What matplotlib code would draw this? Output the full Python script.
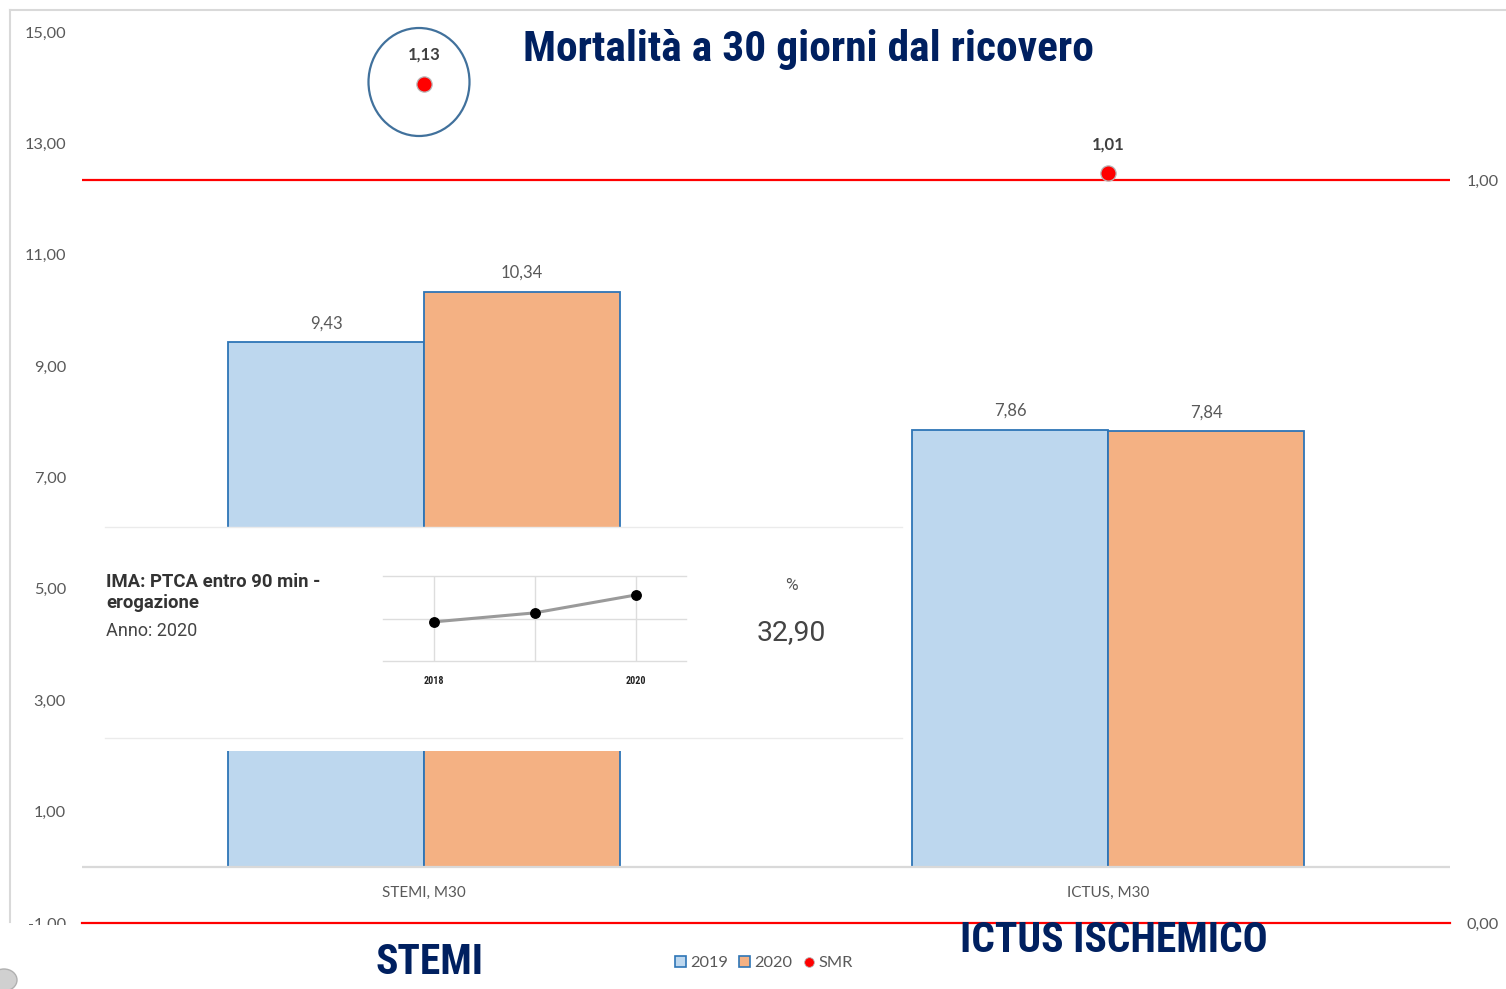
import matplotlib
matplotlib.use('Agg')
import matplotlib.pyplot as plt
from matplotlib import font_manager
from matplotlib.patches import Rectangle, Ellipse, Patch
from matplotlib.lines import Line2D
import numpy as np

# ---------------- data ----------------
categories = ['STEMI, M30', 'ICTUS, M30']
mort_2019 = [9.43, 7.86]
mort_2020 = [10.34, 7.84]
smr = [1.13, 1.01]
left_ticks = [-1, 1, 3, 5, 7, 9, 11, 13, 15]
right_ticks = [0.0, 1.0]
series_names = ['2019', '2020', 'SMR']
title = 'Mortalità a 30 giorni dal ricovero'
group_titles = ['STEMI', 'ICTUS ISCHEMICO']

inset_years = [2018, 2019, 2020]
inset_values = [19.5, 24.0, 32.9]
inset_label_years = [2018, 2020]
inset_title_lines = ['IMA: PTCA entro 90 min -', 'erogazione']
inset_year_text = 'Anno: 2020'
inset_unit = '%'
inset_value_text = '32,90'


def pick(cands):
    for c in cands:
        try:
            font_manager.findfont(font_manager.FontProperties(family=c),
                                  fallback_to_default=False)
            return c
        except Exception:
            pass
    return 'DejaVu Sans'


F_CHART = pick(['Lato', 'Open Sans', 'DejaVu Sans'])
F_NARROW = pick(['Liberation Sans Narrow', 'Roboto Condensed', 'Lato'])
F_INSET = pick(['Roboto', 'Liberation Sans', 'DejaVu Sans'])


def fmt(v):
    return f'{v:.2f}'.replace('.', ',')


W, H = 1506, 989
fig = plt.figure(figsize=(W / 100, H / 100), dpi=100)
fig.patch.set_facecolor('white')


def fx(px):
    return px / W


def fy(py):
    return 1 - py / H


PX = 0.72  # points per pixel at dpi 100

# ---------------- main axes ----------------
ax = fig.add_axes([fx(82), fy(923), fx(1450) - fx(82), fy(32) - fy(923)])
x = np.arange(len(categories))
w = 0.2865
b1 = ax.bar(x - w / 2, mort_2019, w, color='#BDD7EE', edgecolor='#2E75B6',
            linewidth=1.3, zorder=2, label=series_names[0])
b2 = ax.bar(x + w / 2, mort_2020, w, color='#F4B183', edgecolor='#2E75B6',
            linewidth=1.3, zorder=2, label=series_names[1])
ax.set_xlim(-0.5, len(categories) - 0.5)
ax.set_ylim(-1, 15)
ax.set_yticks(left_ticks)
ax.set_yticklabels([fmt(v) for v in left_ticks])
ax.set_xticks([])
for s in ax.spines.values():
    s.set_visible(False)
ax.tick_params(axis='y', length=0, pad=16 * PX, labelsize=11.8,
               labelcolor='#595959')
for lab in ax.get_yticklabels():
    lab.set_family(F_CHART)
ax.axhline(0, color='#D9D9D9', lw=1.6, zorder=3)

for xs, vals in ((x - w / 2, mort_2019), (x + w / 2, mort_2020)):
    for xi, v in zip(xs, vals):
        ax.annotate(fmt(v), (xi, v), xytext=(0, 18.5 * PX), textcoords='offset points',
                    ha='center', va='center', fontsize=12, color='#595959',
                    family=F_CHART)

for xi, c in zip(x, categories):
    ax.annotate(c, (xi, 0), xytext=(0, -26 * PX), textcoords='offset points',
                ha='center', va='center', fontsize=11, color='#595959',
                family=F_CHART)

# ---------------- secondary axis (SMR) ----------------
ax2 = ax.twinx()
ax2.set_ylim(0, 1.2)
ax2.set_yticks(right_ticks)
ax2.set_yticklabels([fmt(v) for v in right_ticks])
for s in ax2.spines.values():
    s.set_visible(False)
ax2.tick_params(axis='y', length=0, pad=17 * PX, labelsize=11.8,
                labelcolor='#595959')
for lab in ax2.get_yticklabels():
    lab.set_family(F_CHART)
ax2.axhline(1.0, color='#FF0000', lw=1.6, zorder=1)
ax2.axhline(0.0, color='#FF0000', lw=1.6, zorder=1, clip_on=False)
ax2.plot(x, smr, 'o', ls='none', color='#FF0000', ms=11, mec='#B8B8B8',
         mew=0.9, zorder=4)
for xi, v in zip(x, smr):
    ax2.annotate(fmt(v), (xi, v), xytext=(0, 29 * PX), textcoords='offset points',
                 ha='center', va='center', fontsize=12, fontweight='bold',
                 color='#404040', family=F_CHART)

# ellipse highlight around STEMI SMR point
fig.add_artist(Ellipse((fx(419), fy(82)), 101 / W, 108 / H, transform=fig.transFigure,
                       fill=False, ec='#41719C', lw=1.6, zorder=5))

# chart frame borders
fig.add_artist(Line2D([fx(10), fx(10)], [fy(10), fy(922)], color='#D9D9D9', lw=1.5,
                      transform=fig.transFigure, zorder=1))
fig.add_artist(Line2D([fx(10), 1.0], [fy(10), fy(10)], color='#D9D9D9', lw=1.5,
                      transform=fig.transFigure, zorder=1))

# ---------------- overlay (white) ----------------
fig.add_artist(Rectangle((fx(105), fy(751)), fx(902) - fx(105), fy(527) - fy(751),
                         transform=fig.transFigure, facecolor='white',
                         edgecolor='none', zorder=5))
for yy in (527, 738):
    fig.add_artist(Line2D([fx(105), fx(902)], [fy(yy), fy(yy)], color='#EBEBEB',
                          lw=1.0, transform=fig.transFigure, zorder=5.5))

# bottom white strip (slide area)
fig.add_artist(Rectangle((0, 0), fx(1455), fy(925), transform=fig.transFigure,
                         facecolor='white', edgecolor='none', zorder=5))
fig.add_artist(Ellipse((fx(4), fy(980)), 26 / W, 22 / H, transform=fig.transFigure,
                       facecolor='#D0D0D0', edgecolor='#B0B0B0', lw=1, zorder=5.5))

# ---------------- inset chart ----------------
iax = fig.add_axes([fx(383), fy(661), fx(686) - fx(383), fy(576) - fy(661)], zorder=6)
iax.set_xlim(2017.5, 2020.5)
iax.set_ylim(0, 42.4)
iax.patch.set_alpha(0)
for s in iax.spines.values():
    s.set_visible(False)
for yv in (0, 21.2, 42.4):
    iax.axhline(yv, color='#DDDDDD', lw=1.0, clip_on=False, zorder=1)
for xv in inset_years:
    iax.axvline(xv, color='#DDDDDD', lw=1.0, zorder=1)
iax.plot(inset_years, inset_values, color='#9A9A9A', lw=2.2, zorder=2)
iax.plot(inset_years, inset_values, 'o', ls='none', color='black', ms=6.8, zorder=3)
iax.set_yticks([])
iax.set_xticks(inset_label_years)
iax.set_xticklabels([str(v) for v in inset_label_years])
iax.tick_params(axis='x', length=0, pad=15 * PX, labelsize=7.2, labelcolor='#222222')
for lab in iax.get_xticklabels():
    lab.set_family(F_NARROW)
    lab.set_fontweight('bold')

# ---------------- texts ----------------
texts_to_fit = []
t = fig.text(fx(808), fy(49), title, ha='center', va='center', fontsize=28,
             fontweight='bold', color='#002060', family=F_NARROW, zorder=7)
texts_to_fit.append((t, 572))
t = fig.text(fx(429), fy(962), group_titles[0], ha='center', va='center', fontsize=26,
             fontweight='bold', color='#002060', family=F_NARROW, zorder=7)
texts_to_fit.append((t, 108))
t = fig.text(fx(1114), fy(941), group_titles[1], ha='center', va='center', fontsize=26,
             fontweight='bold', color='#002060', family=F_NARROW, zorder=7)
texts_to_fit.append((t, 308))

t = fig.text(fx(106), fy(582), inset_title_lines[0], ha='left', va='center',
             fontsize=11.5, fontweight='bold', color='#333333', family=F_INSET, zorder=7)
texts_to_fit.append((t, 215))
fig.text(fx(106), fy(603), inset_title_lines[1], ha='left', va='center',
         fontsize=t.get_fontsize(), fontweight='bold', color='#333333',
         family=F_INSET, zorder=7)
second = fig.texts[-1]
t = fig.text(fx(106), fy(631), inset_year_text, ha='left', va='center', fontsize=11.5,
             color='#444444', family=F_INSET, zorder=7)
texts_to_fit.append((t, 92))
fig.text(fx(791), fy(585), inset_unit, ha='center', va='center', fontsize=12.5,
         color='#555555', family=F_INSET, zorder=7)
t = fig.text(fx(791), fy(633), inset_value_text, ha='center', va='center', fontsize=18,
             color='#444444', family=F_INSET, zorder=7)
texts_to_fit.append((t, 69))

# legend
handles = [Patch(facecolor='#BDD7EE', edgecolor='#2E75B6', lw=1.2),
           Patch(facecolor='#F4B183', edgecolor='#2E75B6', lw=1.2),
           Line2D([], [], ls='none', marker='o', color='#FF0000', ms=7,
                  mec='#B8B8B8', mew=0.6)]
leg = fig.legend(handles, series_names, loc='center', bbox_to_anchor=(fx(764), fy(963)),
                 ncol=3, frameon=False, handlelength=0.65,
                 handleheight=0.65, handletextpad=0.25, columnspacing=0.7,
                 labelcolor='#595959', prop={'family': F_CHART, 'size': 11.8})
leg.set_zorder(7)

# fit texts to measured widths
fig.canvas.draw()
r = fig.canvas.get_renderer()
for tt, target in texts_to_fit:
    bb = tt.get_window_extent(renderer=r)
    if bb.width > 0:
        tt.set_fontsize(tt.get_fontsize() * target / bb.width)
second.set_fontsize(texts_to_fit[3][0].get_fontsize())

fig.savefig('out.png', dpi=100, facecolor='white')
